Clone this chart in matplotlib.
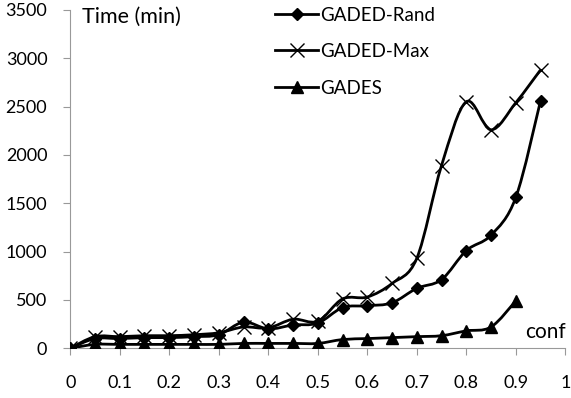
import numpy as np
import matplotlib.pyplot as plt
from matplotlib.path import Path
from matplotlib.patches import PathPatch
from matplotlib.lines import Line2D

plt.rcParams['font.family'] = ['Lato', 'DejaVu Sans']

# data
conf = [0, 0.05, 0.1, 0.15, 0.2, 0.25, 0.3, 0.35, 0.4, 0.45,
        0.5, 0.55, 0.6, 0.65, 0.7, 0.75, 0.8, 0.85, 0.9, 0.95]
gaded_rand = [0, 100, 100, 110, 110, 120, 140, 270, 200, 240,
              260, 420, 440, 470, 620, 710, 1010, 1170, 1560, 2560]
gaded_max = [0, 120, 120, 130, 130, 140, 160, 220, 210, 300,
             280, 510, 530, 670, 930, 1890, 2550, 2260, 2540, 2880]
conf_gades = conf[:19]
gades = [0, 40, 40, 40, 40, 40, 40, 50, 50, 50,
         50, 90, 100, 110, 120, 130, 180, 220, 490]
x_labels = ['0', '0.1', '0.2', '0.3', '0.4', '0.5', '0.6', '0.7', '0.8', '0.9', '1']


def smooth_path(xs, ys):
    # excel-like smoothed line: cubic bezier segments through the points
    p = np.column_stack([xs, ys]).astype(float)
    n = len(p)
    verts = [p[0]]
    codes = [Path.MOVETO]
    for i in range(n - 1):
        p0 = p[i - 1] if i > 0 else p[i]
        p1 = p[i]
        p2 = p[i + 1]
        p3 = p[i + 2] if i + 2 < n else p[i + 1]
        c1 = p1 + (p2 - p0) / 6.0
        c2 = p2 - (p3 - p1) / 6.0
        verts += [c1, c2, p2]
        codes += [Path.CURVE4] * 3
    return Path(verts, codes)


fig, ax = plt.subplots(figsize=(5.71, 3.98), dpi=100)
fig.subplots_adjust(left=0.123, right=0.99, bottom=0.125, top=0.975)

series = [
    (conf, gaded_rand, 'D', 6.6, 'GADED-Rand'),
    (conf, gaded_max, 'x', 10.5, 'GADED-Max'),
    (conf_gades, gades, '^', 9, 'GADES'),
]
handles = []
for xs, ys, mk, ms, name in series:
    ax.add_patch(PathPatch(smooth_path(xs, ys), fill=False, edgecolor='black',
                           lw=2.0, zorder=3))
    ax.plot(xs, ys, linestyle='none', marker=mk, markersize=ms, color='black',
            markeredgewidth=1.0, zorder=4)
    handles.append(Line2D([], [], color='black', lw=2.0, marker=mk,
                          markersize=ms, markeredgewidth=1.0))

ax.set_xlim(0, 1)
ax.set_ylim(0, 3500)
ax.set_xticks(np.arange(0, 1.01, 0.1))
ax.set_xticklabels(x_labels)
ax.set_yticks(np.arange(0, 3501, 500))
ax.spines['top'].set_visible(False)
ax.spines['right'].set_visible(False)
ax.spines['left'].set_color('#999999')
ax.spines['bottom'].set_color('#999999')
ax.tick_params(axis='x', direction='out', length=5, color='#999999', pad=14, labelsize=13)
ax.tick_params(axis='y', direction='out', length=5, color='#999999', pad=11.5, labelsize=13)

ax.text(0.024, 0.979, 'Time (min)', transform=ax.transAxes, fontsize=15.5,
        ha='left', va='center')
ax.text(0.918, 0.047, 'conf', transform=ax.transAxes, fontsize=15,
        ha='left', va='center')

fig.legend(handles, [s[-1] for s in series], loc='upper left',
           bbox_to_anchor=(0.452, 1.026), frameon=False, fontsize=13.5,
           handlelength=2.3, handletextpad=0.1, labelspacing=1.04)

fig.savefig('out.png', dpi=100)
